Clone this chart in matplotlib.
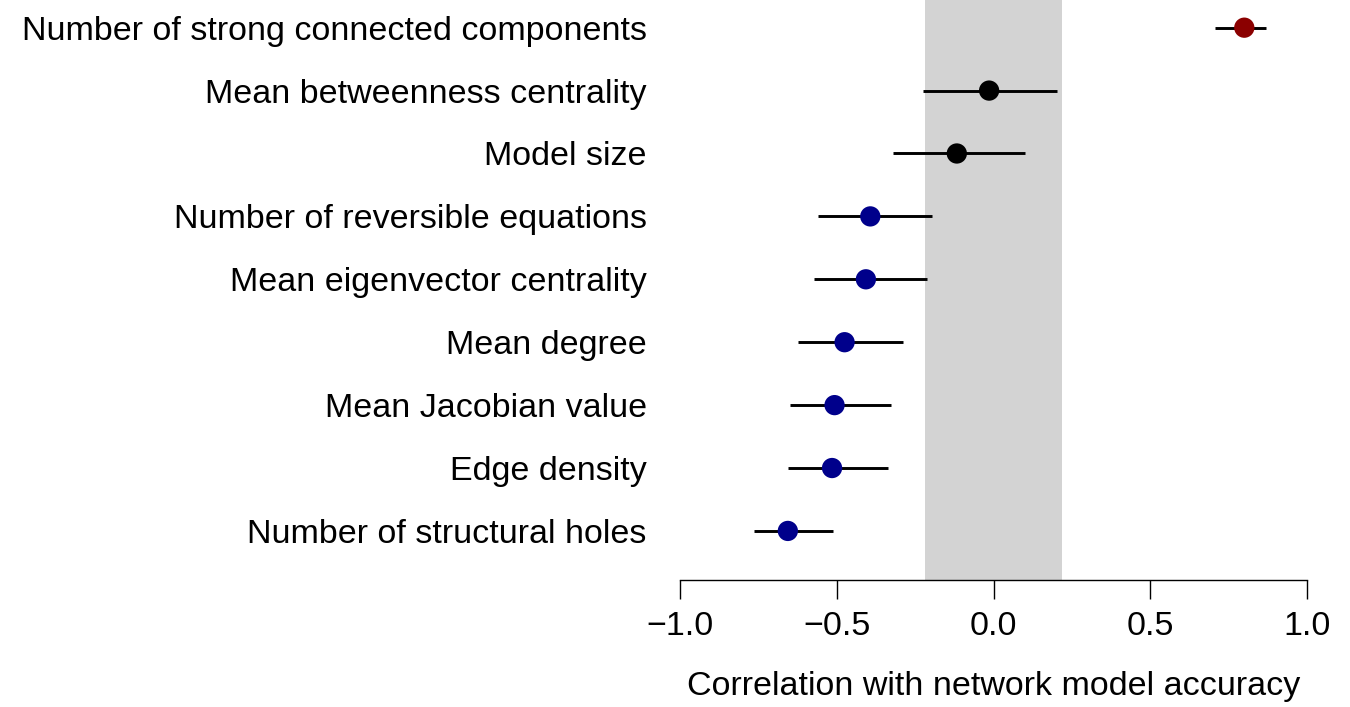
import numpy as np
import matplotlib.pyplot as plt

# features, top to bottom
features = ["Number of strong connected components",
            "Mean betweenness centrality",
            "Model size",
            "Number of reversible equations",
            "Mean eigenvector centrality",
            "Mean degree",
            "Mean Jacobian value",
            "Edge density",
            "Number of structural holes"]
corr = np.array([0.80, -0.014, -0.117, -0.393, -0.407, -0.475, -0.507, -0.515, -0.656])
ci_low = np.array([0.707, -0.226, -0.322, -0.560, -0.572, -0.625, -0.650, -0.657, -0.764])
ci_high = np.array([0.869, 0.202, 0.099, -0.195, -0.211, -0.290, -0.327, -0.338, -0.512])
band = (-0.218, 0.218)
colors = ["#8B0000", "black", "black", "#00008B", "#00008B",
          "#00008B", "#00008B", "#00008B", "#00008B"]

plt.rcParams['font.family'] = ['Liberation Sans', 'DejaVu Sans']
plt.rcParams['font.size'] = 24.5

fig = plt.figure(figsize=(13.5, 7.07), dpi=100)
ax = fig.add_axes([680/1350, 1 - 580/707, 627/1350, 580/707])

ypos = np.arange(len(features))
ax.axvspan(band[0], band[1], color="#D3D3D3", zorder=0, lw=0)
ax.hlines(ypos, ci_low, ci_high, color="black", lw=2.1, zorder=2)
ax.scatter(corr, ypos, s=14.6**2, c=colors, zorder=3, linewidths=0)

ax.set_xlim(-1, 1)
ax.set_ylim(8.78, -0.44)
ax.set_xticks([-1.0, -0.5, 0.0, 0.5, 1.0])
ax.set_xticklabels(["\u22121.0", "\u22120.5", "0.0", "0.5", "1.0"])
ax.set_yticks(ypos)
ax.set_yticklabels(features)
ax.tick_params(axis="y", length=0, pad=24)
ax.tick_params(axis="x", length=14, width=1, pad=8)
for s in ["left", "right", "top"]:
    ax.spines[s].set_visible(False)
ax.spines["bottom"].set_linewidth(1)
ax.set_xlabel("Correlation with network model accuracy", labelpad=21)

fig.savefig("out.png", dpi=100)
